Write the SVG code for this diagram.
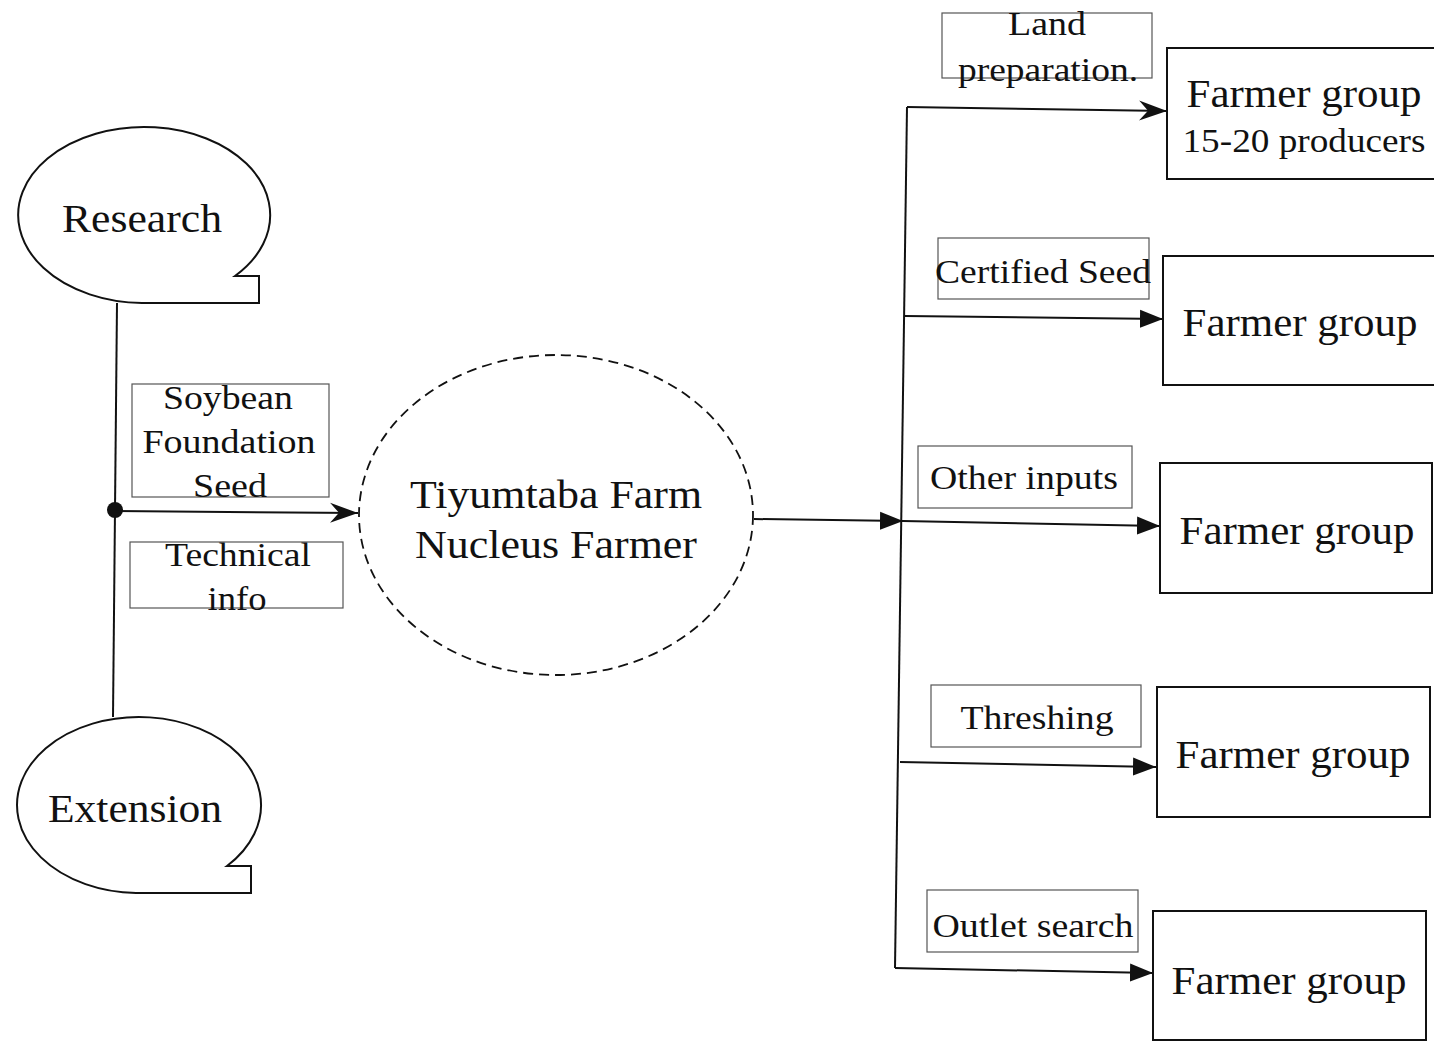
<svg xmlns="http://www.w3.org/2000/svg" width="1434" height="1041" viewBox="0 0 1434 1041">
<style>
  text { font-family: "Liberation Serif", "Times New Roman", serif; fill: #111; }
  .big { font-size: 40px; }
  .lbl { font-size: 34px; }
  .shape { fill: none; stroke: #111; stroke-width: 2; }
  .lbox { fill: none; stroke: #555; stroke-width: 1.2; }
  .conn { fill: none; stroke: #111; stroke-width: 2; }
</style>
<defs>
  <marker id="tri" markerUnits="userSpaceOnUse" markerWidth="24" markerHeight="20" refX="23" refY="10" orient="auto">
    <path d="M0,1 L23,10 L0,19 Z" fill="#111"/>
  </marker>
  <marker id="stealth" markerUnits="userSpaceOnUse" markerWidth="30" markerHeight="22" refX="28" refY="11" orient="auto">
    <path d="M0,1 L28,11 L0,21 L9,11 Z" fill="#111"/>
  </marker>
</defs>

<g id="connectors">
  <path class="conn" d="M117,303 L113,717"/>
  <circle cx="115" cy="510" r="8" fill="#111"/>
  <path class="conn" d="M115,511 L358,513" marker-end="url(#stealth)"/>
  <path class="conn" d="M754,519 L903,521" marker-end="url(#tri)"/>
  <path class="conn" d="M907,107 L895,968"/>
  <path class="conn" d="M907,107 L1167,111" marker-end="url(#stealth)"/>
  <path class="conn" d="M905,316 L1163,319" marker-end="url(#tri)"/>
  <path class="conn" d="M903,521 L1160,526" marker-end="url(#tri)"/>
  <path class="conn" d="M900,762 L1156,767" marker-end="url(#tri)"/>
  <path class="conn" d="M895,968 L1153,973" marker-end="url(#tri)"/>
</g>

<g id="research">
  <path class="shape" d="M235,276 L259,276 L259,303 L142,303 A126 88 0 1 1 235,276 Z"/>
  <text class="big" x="142" y="232" text-anchor="middle" textLength="160" lengthAdjust="spacingAndGlyphs">Research</text>
</g>

<g id="extension">
  <path class="shape" d="M227,866 L251,866 L251,893 L136,893 A122 88 0 1 1 227,866 Z"/>
  <text class="big" x="135" y="822" text-anchor="middle" textLength="174" lengthAdjust="spacingAndGlyphs">Extension</text>
</g>

<g id="soybean-label">
  <rect class="lbox" x="132" y="384" width="197" height="113"/>
  <text class="lbl" x="228" y="409" text-anchor="middle" textLength="130" lengthAdjust="spacingAndGlyphs">Soybean</text>
  <text class="lbl" x="229" y="453" text-anchor="middle" textLength="173" lengthAdjust="spacingAndGlyphs">Foundation</text>
  <text class="lbl" x="230" y="497" text-anchor="middle" textLength="74" lengthAdjust="spacingAndGlyphs">Seed</text>
</g>

<g id="technical-label">
  <rect class="lbox" x="130" y="542" width="213" height="66"/>
  <text class="lbl" x="238" y="566" text-anchor="middle" textLength="146" lengthAdjust="spacingAndGlyphs">Technical</text>
  <text class="lbl" x="237" y="610" text-anchor="middle" textLength="59" lengthAdjust="spacingAndGlyphs">info</text>
</g>

<g id="nucleus">
  <ellipse cx="556" cy="515" rx="197" ry="160" fill="none" stroke="#111" stroke-width="1.8" stroke-dasharray="10 6"/>
  <text class="big" x="556" y="508" text-anchor="middle" textLength="292" lengthAdjust="spacingAndGlyphs">Tiyumtaba Farm</text>
  <text class="big" x="556" y="558" text-anchor="middle" textLength="282" lengthAdjust="spacingAndGlyphs">Nucleus Farmer</text>
</g>

<g id="land-label">
  <rect class="lbox" x="942" y="13" width="210" height="65"/>
  <text class="lbl" x="1047" y="35" text-anchor="middle" textLength="78" lengthAdjust="spacingAndGlyphs">Land</text>
  <text class="lbl" x="1048" y="81" text-anchor="middle" textLength="180" lengthAdjust="spacingAndGlyphs">preparation.</text>
</g>

<g id="certified-label">
  <rect class="lbox" x="938" y="238" width="211" height="61"/>
  <text class="lbl" x="1043" y="283" text-anchor="middle" textLength="216" lengthAdjust="spacingAndGlyphs">Certified Seed</text>
</g>

<g id="other-label">
  <rect class="lbox" x="918" y="446" width="214" height="62"/>
  <text class="lbl" x="1024" y="489" text-anchor="middle" textLength="188" lengthAdjust="spacingAndGlyphs">Other inputs</text>
</g>

<g id="threshing-label">
  <rect class="lbox" x="931" y="685" width="210" height="62"/>
  <text class="lbl" x="1037" y="729" text-anchor="middle" textLength="153" lengthAdjust="spacingAndGlyphs">Threshing</text>
</g>

<g id="outlet-label">
  <rect class="lbox" x="927" y="890" width="211" height="62"/>
  <text class="lbl" x="1033" y="937" text-anchor="middle" textLength="201" lengthAdjust="spacingAndGlyphs">Outlet search</text>
</g>

<g id="farmer-group-1">
  <rect class="shape" x="1167" y="48" width="280" height="131"/>
  <text class="big" x="1304" y="107" text-anchor="middle" textLength="235" lengthAdjust="spacingAndGlyphs">Farmer group</text>
  <text class="lbl" x="1304" y="152" text-anchor="middle" textLength="243" lengthAdjust="spacingAndGlyphs">15-20 producers</text>
</g>

<g id="farmer-group-2">
  <rect class="shape" x="1163" y="256" width="280" height="129"/>
  <text class="big" x="1300" y="336" text-anchor="middle" textLength="235" lengthAdjust="spacingAndGlyphs">Farmer group</text>
</g>

<g id="farmer-group-3">
  <rect class="shape" x="1160" y="463" width="272" height="130"/>
  <text class="big" x="1297" y="544" text-anchor="middle" textLength="235" lengthAdjust="spacingAndGlyphs">Farmer group</text>
</g>

<g id="farmer-group-4">
  <rect class="shape" x="1157" y="687" width="273" height="130"/>
  <text class="big" x="1293" y="768" text-anchor="middle" textLength="235" lengthAdjust="spacingAndGlyphs">Farmer group</text>
</g>

<g id="farmer-group-5">
  <rect class="shape" x="1153" y="911" width="273" height="129"/>
  <text class="big" x="1289" y="994" text-anchor="middle" textLength="235" lengthAdjust="spacingAndGlyphs">Farmer group</text>
</g>
</svg>
